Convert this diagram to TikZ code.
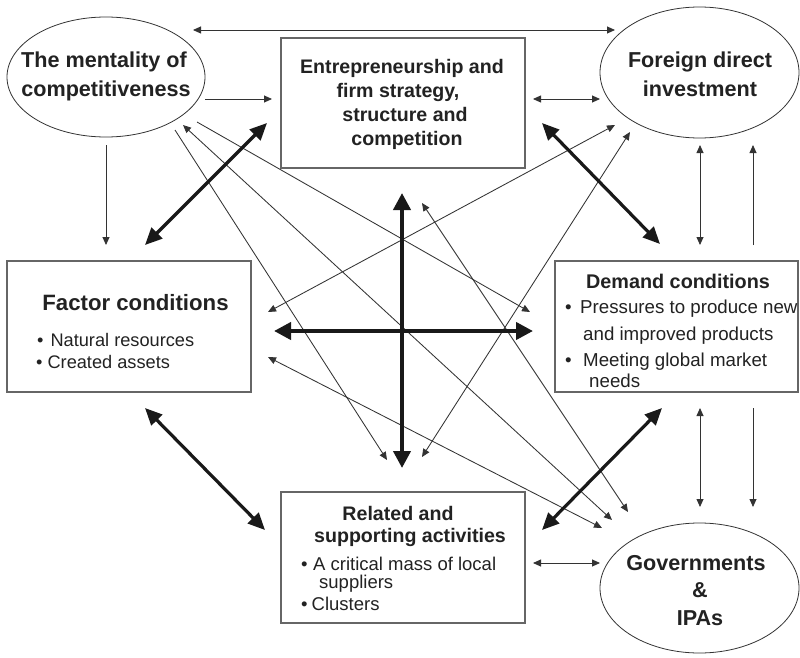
\documentclass[tikz,border=0pt]{standalone}
\usepackage{fontspec}
\setmainfont{Liberation Sans}
\usetikzlibrary{arrows.meta,shapes.geometric}
\definecolor{ink}{HTML}{222222}
\definecolor{lin}{HTML}{333333}
\definecolor{frm}{HTML}{666666}
\begin{document}
\begin{tikzpicture}[x=1pt,y=-1pt,
  ell/.style={draw=lin, line width=0.8pt, ellipse, inner sep=0pt, outer sep=0pt},
  boxn/.style={draw=frm, line width=1.1pt, rectangle, inner sep=0pt, outer sep=0pt},
  txt/.style={inner sep=0pt, anchor=base, text=ink},
  ttl/.style={txt, font=\bfseries\fontsize{21.6}{24}\selectfont},
  ttls/.style={txt, font=\bfseries\fontsize{19.6}{22}\selectfont},
  blt/.style={inner sep=0pt, anchor=base west, text=ink, font=\fontsize{18.5}{21}\selectfont},
  thin/.style={line width=0.85pt, draw=lin, -{Triangle[length=8pt,width=7pt]}},
  thinb/.style={line width=0.85pt, draw=lin, {Triangle[length=8pt,width=7pt]}-{Triangle[length=8pt,width=7pt]}},
  thk/.style={line width=3.2pt, draw=black!90, {Triangle[length=17pt,width=15pt]}-{Triangle[length=17pt,width=15pt]}},
  thkc/.style={line width=4pt, draw=black!90, {Triangle[length=17pt,width=17pt]}-{Triangle[length=17pt,width=17pt]}}
]
\useasboundingbox (0,0) rectangle (800,658);
\fill[white] (0,0) rectangle (800,658);

% shapes
\node[ell, minimum width=198pt, minimum height=120pt] (mc) at (106,77) {};
\node[ell, minimum width=199pt, minimum height=131pt] (fdi) at (699.5,72.5) {};
\node[ell, minimum width=199pt, minimum height=130pt] (gov) at (699.5,588) {};
\node[boxn, minimum width=244pt, minimum height=130pt] (ef) at (403,103) {};
\node[boxn, minimum width=244pt, minimum height=131pt] (fc) at (129,326.5) {};
\node[boxn, minimum width=243pt, minimum height=131pt] (dc) at (676.5,326.5) {};
\node[boxn, minimum width=244pt, minimum height=131pt] (rs) at (403,557.5) {};

% texts
\node[ttl] (mcA) at (104,68) {The mentality of};
\node[ttl] (mcB) at (106,97) {competitiveness};
\node[ttl] (fdiA) at (700,68) {Foreign direct};
\node[ttl] (fdiB) at (700,97) {investment};
\node[ttls] (efA) at (402,74) {Entrepreneurship and};
\node[ttls] (efB) at (398,98) {firm strategy,};
\node[ttls] (efC) at (405,122) {structure and};
\node[ttls] (efD) at (407,146) {competition};
\node[txt, font=\bfseries\fontsize{22.2}{24}\selectfont] (fcA) at (135.5,310) {Factor conditions};
\node[blt, font=\fontsize{18.2}{21}\selectfont] (fcB) at (37,346) {\textbullet\hspace{7pt}Natural resources};
\node[blt, font=\fontsize{18.2}{21}\selectfont] (fcC) at (36,368) {\textbullet\hspace{5pt}Created assets};
\node[txt, font=\bfseries\fontsize{19.8}{22}\selectfont] (dcA) at (678,288) {Demand conditions};
\node[blt, font=\fontsize{18.7}{21}\selectfont] (dcB) at (565,313) {\textbullet\hspace{8.5pt}Pressures to produce new};
\node[blt, font=\fontsize{18.7}{21}\selectfont] (dcC) at (583,340) {and improved products};
\node[blt, font=\fontsize{18.7}{21}\selectfont] (dcD) at (565,366) {\textbullet\hspace{11.5pt}Meeting global market};
\node[blt, font=\fontsize{18.7}{21}\selectfont] (dcE) at (589,387) {needs};
\node[ttls] (rsA) at (398,520) {Related and};
\node[ttls] (rsB) at (410,542) {supporting activities};
\node[blt] (rsC) at (301,570) {\textbullet\hspace{5.5pt}A critical mass of local};
\node[blt] (rsD) at (319,588) {suppliers};
\node[blt] (rsE) at (301,610) {\textbullet\hspace{4pt}Clusters};
\node[ttl] (govA) at (696,570) {Governments};
\node[ttl] (govB) at (700,597) {\&};
\node[ttl] (govC) at (700,625) {IPAs};

% connector end points
\coordinate (tA) at (193,30);   \coordinate (tB) at (615,30);
\coordinate (meA) at (205,99);  \coordinate (meB) at (272,99);
\coordinate (efA1) at (533,99); \coordinate (efB1) at (600,99);
\coordinate (mfA) at (106,145); \coordinate (mfB) at (106,245);
\coordinate (fdA) at (700,145); \coordinate (fdB) at (700,245);
\coordinate (dfA) at (753,245); \coordinate (dfB) at (753,145);
\coordinate (dgA) at (700,408); \coordinate (dgB) at (700,507);
\coordinate (dhA) at (753,408); \coordinate (dhB) at (753,507);
\coordinate (rgA) at (533,563); \coordinate (rgB) at (600,563);
\coordinate (mrA) at (175,130); \coordinate (mrB) at (387,460);
\coordinate (mgA) at (183,125); \coordinate (mgB) at (612,520);
\coordinate (mdA) at (197,122); \coordinate (mdB) at (530,312);
\coordinate (ffA) at (268,312); \coordinate (ffB) at (615,125);
\coordinate (fgA) at (268,357); \coordinate (fgB) at (602,528);
\coordinate (egA) at (422,203); \coordinate (egB) at (628,512);
\coordinate (rfA) at (422,457); \coordinate (rfB) at (630,132);
\coordinate (k1A) at (145,245); \coordinate (k1B) at (267,123);
\coordinate (k2A) at (542,123); \coordinate (k2B) at (660,244);
\coordinate (k3A) at (145,408); \coordinate (k3B) at (265,530);
\coordinate (k4A) at (542,530); \coordinate (k4B) at (662,408);
\coordinate (cvA) at (402,193); \coordinate (cvB) at (402,468);
\coordinate (chA) at (274,331); \coordinate (chB) at (533,331);

% thin connectors
\draw[thinb] (tA) -- (tB);
\draw[thin] (meA) -- (meB);
\draw[thinb] (efA1) -- (efB1);
\draw[thin] (mfA) -- (mfB);
\draw[thinb] (fdA) -- (fdB);
\draw[thin] (dfA) -- (dfB);
\draw[thinb] (dgA) -- (dgB);
\draw[thin] (dhA) -- (dhB);
\draw[thinb] (rgA) -- (rgB);
\draw[thin] (mrA) -- (mrB);
\draw[thinb] (mgA) -- (mgB);
\draw[thin] (mdA) -- (mdB);
\draw[thinb] (ffA) -- (ffB);
\draw[thinb] (fgA) -- (fgB);
\draw[thinb] (egA) -- (egB);
\draw[thinb] (rfA) -- (rfB);

% thick connectors
\draw[thk] (k1A) -- (k1B);
\draw[thk] (k2A) -- (k2B);
\draw[thk] (k3A) -- (k3B);
\draw[thk] (k4A) -- (k4B);
\draw[thkc] (cvA) -- (cvB);
\draw[thkc] (chA) -- (chB);
\end{tikzpicture}
\end{document}
